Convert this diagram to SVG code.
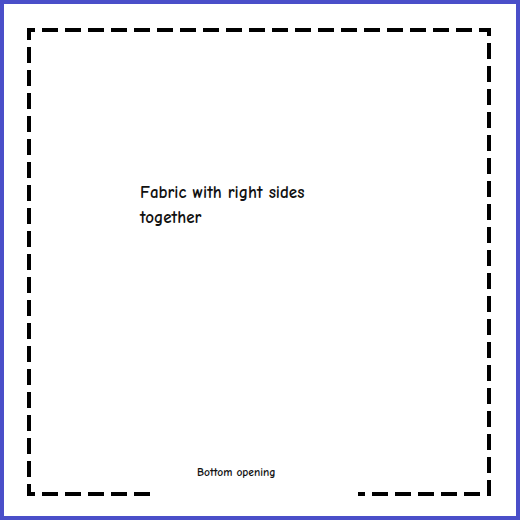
<svg xmlns="http://www.w3.org/2000/svg" width="520" height="520" viewBox="0 0 520 520">
<style>
.seam{fill:none;stroke:#000;stroke-width:4;stroke-dasharray:16 7;stroke-linecap:butt}
.t{font-family:"Comic Neue","DejaVu Sans","Noto Sans",sans-serif;fill:#111;font-weight:700}
</style>
<rect x="0" y="0" width="520" height="520" fill="#fff"/>
<rect x="2" y="2" width="516" height="516" fill="none" stroke="#4a4fc9" stroke-width="4"/>
<g id="connectors">
<path class="seam" d="M150 494 H29 V30 H489 V494 H358"/>
</g>
<g id="fabric">
<text class="t" x="140" y="198" font-size="17">Fabric with right sides</text>
<text class="t" x="140" y="223" font-size="17">together</text>
</g>
<g id="opening">
<text class="t" x="197" y="476" font-size="11.5">Bottom opening</text>
</g>
</svg>
